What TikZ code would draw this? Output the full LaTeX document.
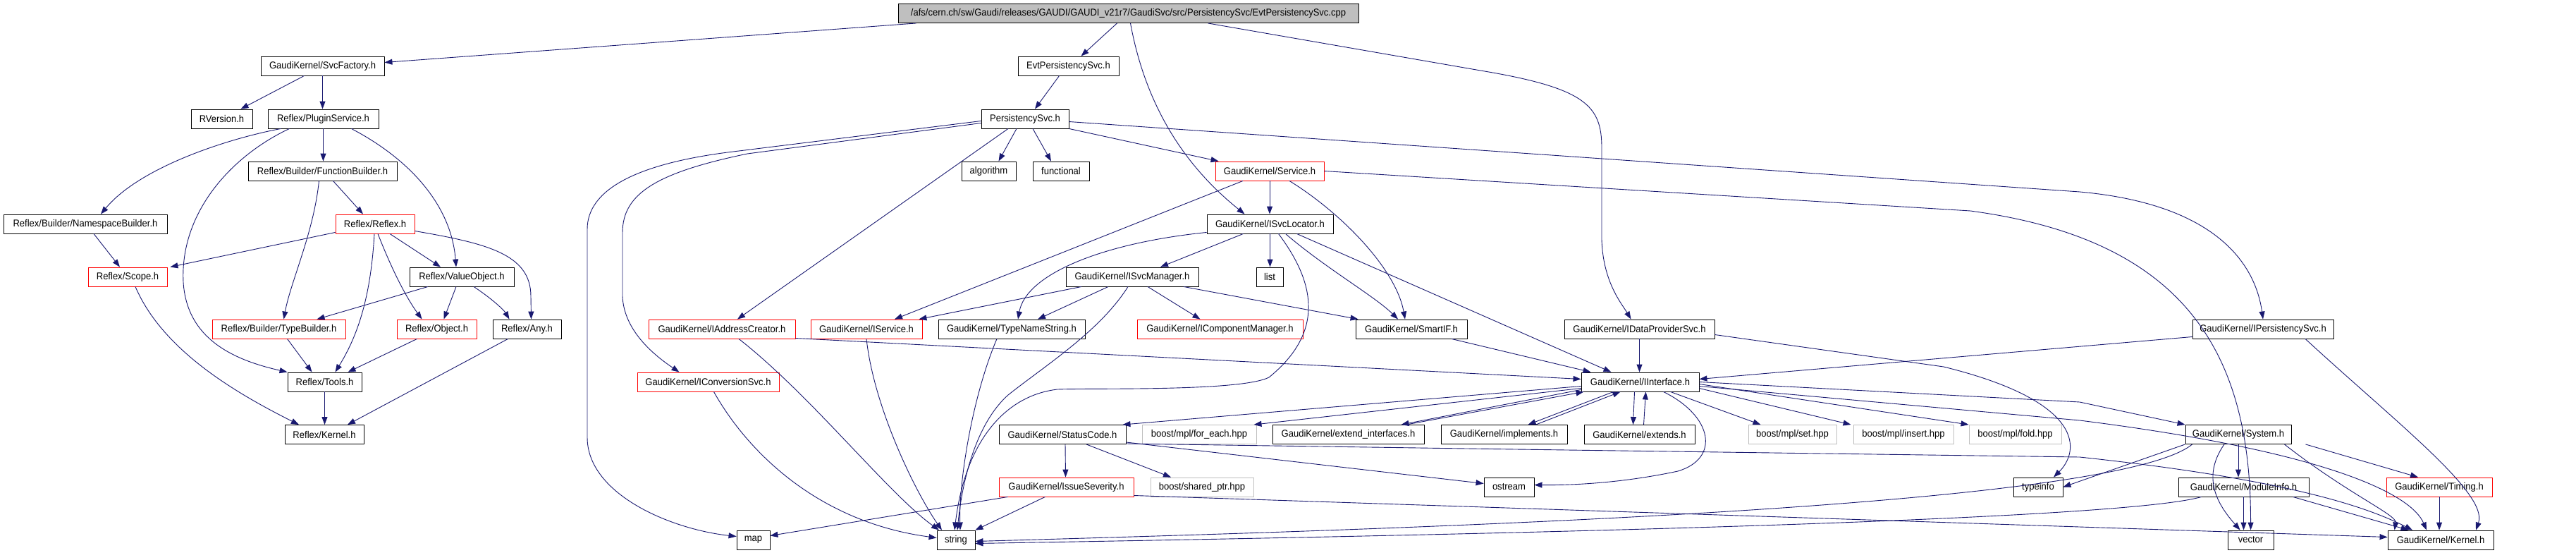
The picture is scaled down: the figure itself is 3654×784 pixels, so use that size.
\documentclass[tikz,border=0pt]{standalone}
\usepackage{fontspec}
\newfontfamily\dfont{Liberation Sans}[FakeStretch=0.93]
\usetikzlibrary{arrows.meta}
\definecolor{edgeblue}{HTML}{191970}
\definecolor{topgray}{HTML}{BFBFBF}
\definecolor{boostgray}{HTML}{BFBFBF}
\tikzset{
  box/.style={draw=black, line width=0.9pt, rectangle, inner sep=0pt, minimum height=27pt, font=\dfont\fontsize{14pt}{16pt}\selectfont, fill=white},
  redbox/.style={box, draw=red},
  graybox/.style={box, draw=boostgray},
  topbox/.style={box, fill=topgray},
  dep/.style={draw=edgeblue, line width=0.9pt, -{Triangle[length=11pt,width=8pt]}},
}
\begin{document}
\begin{tikzpicture}[x=1pt,y=-1pt]
\useasboundingbox (0,0) rectangle (3654,784);
% row 0
\node[topbox, minimum width=653pt] (top) at (1600.5,19) {/afs/cern.ch/sw/Gaudi/releases/GAUDI/GAUDI\_v21r7/GaudiSvc/src/PersistencySvc/EvtPersistencySvc.cpp};
% row 1
\node[box, minimum width=175pt] (svcf) at (457.5,93.5) {GaudiKernel/SvcFactory.h};
\node[box, minimum width=143pt] (evth) at (1515.5,93.5) {EvtPersistencySvc.h};
% row 2
\node[box, minimum width=87pt] (rver) at (314.5,168.5) {RVersion.h};
\node[box, minimum width=157pt] (plug) at (458.5,168.5) {Reflex/PluginService.h};
\node[box, minimum width=124pt] (pers) at (1454,168.5) {PersistencySvc.h};
% row 3
\node[box, minimum width=211pt] (fb) at (457.5,242.5) {Reflex/Builder/FunctionBuilder.h};
\node[box, minimum width=77pt] (algo) at (1402.5,242.5) {algorithm};
\node[box, minimum width=80pt] (func) at (1505,242.5) {functional};
\node[redbox, minimum width=154pt] (serv) at (1801,242.5) {GaudiKernel/Service.h};
% row 4
\node[box, minimum width=232pt] (nsb) at (121,317.5) {Reflex/Builder/NamespaceBuilder.h};
\node[redbox, minimum width=112pt] (reflex) at (532,317.5) {Reflex/Reflex.h};
\node[box, minimum width=179pt] (isl) at (1801.5,317.5) {GaudiKernel/ISvcLocator.h};
% row 5
\node[redbox, minimum width=112pt] (scope) at (181,392.5) {Reflex/Scope.h};
\node[box, minimum width=148pt] (vo) at (655,392.5) {Reflex/ValueObject.h};
\node[box, minimum width=188pt] (ism) at (1606,392.5) {GaudiKernel/ISvcManager.h};
\node[box, minimum width=38pt] (list) at (1801,392.5) {list};
% row 6
\node[redbox, minimum width=189pt] (tb) at (395.5,466.5) {Reflex/Builder/TypeBuilder.h};
\node[redbox, minimum width=113pt] (obj) at (619.5,466.5) {Reflex/Object.h};
\node[box, minimum width=97pt] (any) at (747.5,466.5) {Reflex/Any.h};
\node[redbox, minimum width=208pt] (iac) at (1024,466.5) {GaudiKernel/IAddressCreator.h};
\node[redbox, minimum width=158pt] (isv) at (1229,466.5) {GaudiKernel/IService.h};
\node[box, minimum width=208pt] (tns) at (1435,466.5) {GaudiKernel/TypeNameString.h};
\node[redbox, minimum width=235pt] (icm) at (1730.5,466.5) {GaudiKernel/IComponentManager.h};
\node[box, minimum width=158pt] (sif) at (2002,466.5) {GaudiKernel/SmartIF.h};
\node[box, minimum width=213pt] (idp) at (2325.5,466.5) {GaudiKernel/IDataProviderSvc.h};
\node[box, minimum width=200pt] (ips) at (3210,466.5) {GaudiKernel/IPersistencySvc.h};
% row 7
\node[box, minimum width=105pt] (tools) at (460.5,541.5) {Reflex/Tools.h};
\node[redbox, minimum width=201pt] (icv) at (1004.5,541.5) {GaudiKernel/IConversionSvc.h};
\node[box, minimum width=167pt] (iif) at (2326.5,541.5) {GaudiKernel/IInterface.h};
% row 8
\node[box, minimum width=112pt] (rkern) at (460,616) {Reflex/Kernel.h};
\node[box, minimum width=180pt] (sc) at (1507,616) {GaudiKernel/StatusCode.h};
\node[graybox, minimum width=162pt] (foreach) at (1701,616) {boost/mpl/for\_each.hpp};
\node[box, minimum width=215pt] (extif) at (1912.5,616) {GaudiKernel/extend\_interfaces.h};
\node[box, minimum width=179pt] (impl) at (2133.5,616) {GaudiKernel/implements.h};
\node[box, minimum width=157pt] (ext) at (2325.5,616) {GaudiKernel/extends.h};
\node[graybox, minimum width=125pt] (mset) at (2542.5,616) {boost/mpl/set.hpp};
\node[graybox, minimum width=142pt] (mins) at (2700,616) {boost/mpl/insert.hpp};
\node[graybox, minimum width=131pt] (mfold) at (2858.5,616) {boost/mpl/fold.hpp};
\node[box, minimum width=150pt] (sys) at (3175,616) {GaudiKernel/System.h};
% row 9
\node[redbox, minimum width=191pt] (isev) at (1512.5,690.5) {GaudiKernel/IssueSeverity.h};
\node[graybox, minimum width=146pt] (shptr) at (1705,690.5) {boost/shared\_ptr.hpp};
\node[box, minimum width=71pt] (ostream) at (2140.5,690.5) {ostream};
\node[box, minimum width=70pt] (tinfo) at (2891,690.5) {typeinfo};
\node[box, minimum width=185pt] (modinfo) at (3182.5,690.5) {GaudiKernel/ModuleInfo.h};
\node[redbox, minimum width=150pt] (timing) at (3460,690.5) {GaudiKernel/Timing.h};
% row 10
\node[box, minimum width=47pt] (map) at (1068.5,765.5) {map};
\node[box, minimum width=54pt] (string) at (1356,765.5) {string};
\node[box, minimum width=65pt] (vector) at (3192.5,765.5) {vector};
\node[box, minimum width=150pt] (gkern) at (3462,765.5) {GaudiKernel/Kernel.h};

% ---------- edges ----------
\draw[dep] ([xshift=26pt]top.south west) -- ([yshift=5pt]svcf.east);
\draw[dep] ([xshift=-16pt]top.south) -- ([xshift=18pt]evth.north);
\draw[dep] ([xshift=3pt]top.south) .. controls (1625,150) and (1680,235) .. ([xshift=-36pt]isl.north);
\draw[dep] ([xshift=113pt]top.south) -- (2100,100) .. controls (2250,125) and (2272,150) .. (2272,210) -- (2272,340) .. controls (2274,400) and (2300,430) .. ([xshift=-12pt]idp.north);
\draw[dep] ([xshift=-26pt]svcf.south) -- ([xshift=27pt]rver.north);
\draw[dep] (svcf.south) -- (svcf.south |- plug.north);
\draw[dep] ([xshift=-60pt]plug.south) .. controls (330,195) and (200,235) .. ([xshift=22pt]nsb.north);
\draw[dep] ([xshift=-48pt]plug.south) .. controls (330,220) and (255,300) .. (260,400) .. controls (265,480) and (330,510) .. (tools.north west);
\draw[dep] (plug.south) -- (plug.south |- fb.north);
\draw[dep] ([xshift=40pt]plug.south) .. controls (580,225) and (640,290) .. ([xshift=-8pt]vo.north);
\draw[dep] ([xshift=-5pt]fb.south) .. controls (445,330) and (412,400) .. ([xshift=7pt]tb.north);
\draw[dep] ([xshift=15pt]fb.south) -- ([xshift=-17pt]reflex.north);
\draw[dep] ([yshift=2pt]reflex.south west) -- ([xshift=4pt]scope.north east);
\draw[dep] ([xshift=-1pt]reflex.south) .. controls (526,420) and (508,475) .. ([xshift=15pt]tools.north);
\draw[dep] ([xshift=21pt]reflex.south) -- ([xshift=-30pt]vo.north);
\draw[dep] ([xshift=4pt]reflex.south) .. controls (555,380) and (575,420) .. ([xshift=-21pt]obj.north);
\draw[dep] ([yshift=-10pt]reflex.east) .. controls (690,345) and (753,360) .. (753,420) -- ([xshift=6pt]any.north);
\draw[dep] ([xshift=12pt]nsb.south) -- ([xshift=-11pt]scope.north);
\draw[dep] ([xshift=11pt]scope.south) .. controls (230,495) and (330,555) .. ([xshift=-36pt]rkern.north);
\draw[dep] ([xshift=-48pt]vo.south) -- ([xshift=54pt]tb.north);
\draw[dep] ([xshift=-8pt]vo.south) -- ([xshift=10pt]obj.north);
\draw[dep] ([xshift=17pt]vo.south) .. controls (700,425) and (715,440) .. ([xshift=-25pt]any.north);
\draw[dep] ([xshift=12pt]tb.south) -- ([xshift=-18pt]tools.north);
\draw[dep] ([xshift=-28pt]obj.south) -- ([xshift=33pt]tools.north);
\draw[dep] ([xshift=-27pt]any.south) -- ([xshift=33pt]rkern.north);
\draw[dep] (tools.south) -- (tools.south |- rkern.north);
\draw[dep] ([xshift=-13pt]evth.south) -- ([xshift=14pt]pers.north);
\draw[dep] ([yshift=-3pt]pers.west) -- (1040,215) .. controls (900,232) and (833,270) .. (833,325) -- (833,620) .. controls (833,700) and (950,750) .. ([yshift=5pt]map.west);
\draw[dep] ([yshift=-6pt]pers.west) -- (1060,218) .. controls (930,245) and (883,275) .. (883,330) -- (883,420) .. controls (885,470) and (930,505) .. ([xshift=-41pt]icv.north);
\draw[dep] ([xshift=-12pt]pers.south) -- ([xshift=14pt]algo.north);
\draw[dep] ([xshift=11pt]pers.south) -- ([xshift=-14pt]func.north);
\draw[dep] (pers.south east) -- ([xshift=5pt]serv.north west);
\draw[dep] ([xshift=-24pt]pers.south) -- ([xshift=22pt]iac.north);
\draw[dep] ([yshift=-4pt]pers.east) -- (2950,272) .. controls (3150,290) and (3200,380) .. (ips.north);
\draw[dep] (serv.south) -- (serv.south |- isl.north);
\draw[dep] ([xshift=-38pt]serv.south) -- ([xshift=40pt]isv.north);
\draw[dep] ([xshift=28pt]serv.south) .. controls (1900,300) and (1980,380) .. ([xshift=-9pt]sif.north);
\draw[dep] (serv.east) -- (2795,299) .. controls (3100,340) and (3193,500) .. (vector.north);
\draw[dep] ([xshift=-38pt]isl.south) -- ([xshift=40pt]ism.north);
\draw[dep] (isl.south) -- (isl.south |- list.north);
\draw[dep] ([yshift=2pt]isl.south west) .. controls (1560,345) and (1455,390) .. ([xshift=9pt]tns.north);
\draw[dep] ([xshift=22pt]isl.south) .. controls (1880,380) and (1950,420) .. ([xshift=-19pt]sif.north);
\draw[dep] ([xshift=38pt]isl.south) -- ([xshift=-41pt]iif.north);
\draw[dep] ([xshift=12pt]isl.south) .. controls (1865,400) and (1880,470) .. (1800,535) .. controls (1760,555) and (1560,550) .. (1500,552) .. controls (1430,560) and (1370,620) .. ([xshift=-2pt]string.north);
\draw[dep] ([xshift=-72pt]ism.south) -- ([xshift=-5pt]isv.north east);
\draw[dep] ([xshift=-34pt]ism.south) -- ([xshift=37pt]tns.north);
\draw[dep] ([xshift=22pt]ism.south) -- ([xshift=-28pt]icm.north);
\draw[dep] ([xshift=73pt]ism.south) -- ([xshift=4pt]sif.north west);
\draw[dep] ([xshift=-6pt]ism.south) .. controls (1560,470) and (1480,520) .. (1430,560) .. controls (1385,600) and (1365,680) .. ([xshift=2pt]string.north);
\draw[dep] (isv.south) .. controls (1240,580) and (1300,700) .. ([xshift=-20pt]string.north);
\draw[dep] ([xshift=24pt]iac.south) .. controls (1150,560) and (1260,700) .. ([xshift=-24pt]string.north);
\draw[dep] ([yshift=-13pt]iac.east) -- ([yshift=4pt]iif.west);
\draw[dep] ([xshift=8pt]icv.south) .. controls (1060,640) and (1160,740) .. ([yshift=3pt]string.west);
\draw[dep] ([xshift=-21pt]tns.south) .. controls (1380,560) and (1360,680) .. ([xshift=6pt]string.north);
\draw[dep] ([xshift=57pt]sif.south) -- ([xshift=14pt]iif.north west);
\draw[dep] (idp.south) -- (idp.south |- iif.north);
\draw[dep] ([yshift=-8pt]idp.east) -- (2757,520) .. controls (2960,570) and (2950,640) .. ([xshift=22pt]tinfo.north);
\draw[dep] ([yshift=-11pt]ips.west) -- ([yshift=4pt]iif.east);
\draw[dep] ([yshift=-6pt]iif.west) -- ([xshift=-5pt]sc.north east);
\draw[dep] ([yshift=-9pt]iif.west) -- ([xshift=-4pt]foreach.north east);
\draw[dep] ([yshift=-11pt]iif.west) -- ([xshift=75pt]extif.north);
\draw[dep] ([xshift=82pt]extif.north) -- ([xshift=4pt]iif.south west);
\draw[dep] ([xshift=-38pt]iif.south) -- ([xshift=34pt]impl.north);
\draw[dep] ([xshift=45pt]impl.north) -- ([xshift=-28pt]iif.south);
\draw[dep] ([xshift=-8pt]iif.south) -- ([xshift=-9pt]ext.north);
\draw[dep] ([xshift=6pt]ext.north) -- ([xshift=8pt]iif.south);
\draw[dep] ([xshift=33pt]iif.south) .. controls (2430,590) and (2440,650) .. (2380,668) .. controls (2300,685) and (2230,688) .. ([yshift=3pt]ostream.east);
\draw[dep] ([xshift=43pt]iif.south) -- ([xshift=-45pt]mset.north);
\draw[dep] ([yshift=-9pt]iif.east) -- ([xshift=-3pt]mins.north west);
\draw[dep] ([yshift=-3pt]iif.east) -- (mfold.north west);
\draw[dep] ([yshift=0pt]iif.east) -- (2950,570) -- (sys.north west);
\draw[dep] ([yshift=-6pt]iif.east) -- (2950,596) .. controls (3300,640) and (3420,700) .. ([xshift=-20pt]gkern.north);
\draw[dep] ([xshift=4pt]sc.south) -- ([xshift=-1pt]isev.north);
\draw[dep] ([xshift=34pt]sc.south) -- ([xshift=-44pt]shptr.north);
\draw[dep] ([yshift=-11pt]sc.east) -- ([yshift=5pt]ostream.west);
\draw[dep] ([yshift=-13pt]sc.east) -- (2150,637) -- (2950,648) .. controls (3250,680) and (3360,720) .. ([xshift=-40pt]gkern.north);
\draw[dep] ([xshift=-83pt]isev.south) -- ([yshift=6pt]map.east);
\draw[dep] ([xshift=-30pt]isev.south) -- (string.north east);
\draw[dep] ([yshift=-12pt]isev.east) -- ([yshift=4pt]gkern.west);
\draw[dep] (sys.south west) -- (tinfo.east);
\draw[dep] ([xshift=10pt]sys.south west) .. controls (3000,720) and (2000,750) .. ([yshift=-2pt]string.east);
\draw[dep] ([xshift=-20pt]sys.south) .. controls (3120,680) and (3150,720) .. ([xshift=-15pt]vector.north);
\draw[dep] (sys.south) -- (sys.south |- modinfo.north);
\draw[dep] ([xshift=20pt]sys.south east) -- ([xshift=-30pt]timing.north);
\draw[dep] ([xshift=-10pt]sys.south east) .. controls (3330,700) and (3400,730) .. ([xshift=10pt]gkern.north west);
\draw[dep] ([xshift=-60pt]modinfo.south) .. controls (3000,740) and (2000,760) .. ([yshift=-5pt]string.east);
\draw[dep] (modinfo.south) -- (modinfo.south |- vector.north);
\draw[dep] ([xshift=70pt]modinfo.south) -- ([xshift=30pt]gkern.north west);
\draw[dep] (timing.south) -- (timing.south |- gkern.north);
\draw[dep] ([xshift=60pt]ips.south) .. controls (3400,600) and (3530,700) .. ([xshift=50pt]gkern.north);
\end{tikzpicture}
\end{document}
